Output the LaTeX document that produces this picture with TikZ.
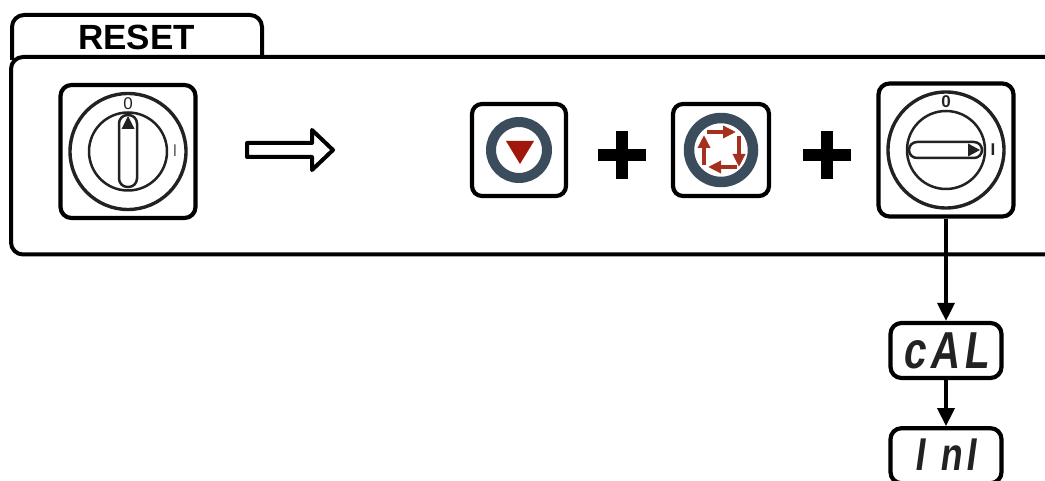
\documentclass[tikz,border=0pt]{standalone}
\usepackage{fontspec}
\setmainfont{Liberation Sans}
\newfontfamily\dispfont[FakeSlant=0.14,FakeStretch=0.78,LetterSpace=9]{Liberation Sans Bold}
\usepackage{xcolor}
\usetikzlibrary{positioning, arrows.meta}
\definecolor{ringgray}{HTML}{3B4D5C}
\definecolor{btnred}{HTML}{A0170C}
\definecolor{swred}{HTML}{A5301E}
\definecolor{inkgray}{HTML}{222222}

\begin{document}
\begin{tikzpicture}[
        x=1pt, y=-1pt,
        line join=round,
        frame/.style={line width=4pt, rounded corners=12pt},
        knobbox/.style={rectangle, draw, line width=4.2pt, rounded corners=11pt, minimum width=135pt, minimum height=133pt},
        btnbox/.style={rectangle, draw, line width=4.2pt, rounded corners=10pt, minimum width=94pt, minimum height=92pt},
        dispbox/.style={rectangle, draw, line width=4.2pt, rounded corners=11pt, minimum width=111pt, minimum height=55pt, inner sep=0pt},
        disptext/.style={font=\dispfont\fontsize{52}{52}\selectfont, text=inkgray, inner sep=0pt},
        knobline/.style={draw=inkgray, line width=2.5pt},
        swarrow/.style={-{Triangle[length=13pt, width=12pt]}, line width=4.4pt, draw=swred},
        plusbar/.style={fill=black, draw=none},
        flow/.style={-{Triangle[length=18pt, width=17pt]}, line width=3.6pt},
        mark0/.style={font=\fontsize{17}{17}\selectfont, text=inkgray, inner sep=0pt}
    ]
%
    \useasboundingbox (0,0) rectangle (1045,481);
%
    % Frame
    \draw[frame] (12,60) -- (12,15) -- (262,15) -- (262,60);
    \draw[frame, fill=white] (1060,57) -- (11,57) -- (11,254.5) -- (1060,254.5);
    \node[font=\bfseries\fontsize{35}{35}\selectfont, inner sep=0pt] (title) at (136.5,37) {RESET};
%
    % Nodes
    \node[knobbox] (knobA) at (128,151.5) {};
    \node[btnbox] (down) at (519,150) {};
    \node[btnbox, minimum width=96pt] (menu) at (721,150) {};
    \node[knobbox] (knobB) at (946,150) {};
    \node[dispbox] (cal) at (946,350.5) {};
    \node[dispbox, below=46pt of cal] (ini) {};
%
    % Knobs
    \foreach \k in {knobA, knobB} {
        \draw[knobline, line width=3.4pt] (\k.center) circle (58pt);
        \draw[knobline] (\k.center) circle (39pt);
    }
    \draw[knobline, fill=white, rounded corners=8.5pt] (119,115) rectangle (137,187);
    \fill[inkgray] (128,116) -- (134.5,129) -- (121.5,129) -- cycle;
    \node[mark0] (zeroA) at (128,104) {0};
    \node[mark0, text=black!60] (oneA) at (175,150.5) {I};
%
    \draw[knobline, fill=white, rounded corners=8pt] (909,142) rectangle (982,158);
    \fill[inkgray] (980,150) -- (968,143.5) -- (968,156.5) -- cycle;
    \node[mark0, font=\bfseries\fontsize{17}{17}\selectfont] (zeroB) at (946,102) {0};
    \node[mark0, font=\bfseries\fontsize{17}{17}\selectfont] (oneB) at (993,150) {I};
%
    % Block arrow
    \draw[line width=4pt] (247,143) -- (312,143) -- (312,130) -- (333,150) -- (312,170) -- (312,157) -- (247,157) -- cycle;
%
    % Buttons
    \draw[ringgray, line width=10pt] (down.center) circle (28pt);
    \fill[btnred] (506,141) -- (534,141) -- (520,164) -- cycle;
    \draw[ringgray, line width=10.5pt] (menu.center) circle (32pt);
    \draw[swarrow] (707,132) -- (736,132);
    \draw[swarrow] (739,136) -- (739,167);
    \draw[swarrow] (737,167) -- (708,167);
    \draw[swarrow] (704,165) -- (704,135);
%
    % Plus signs
    \foreach \cx in {622,827} {
        \fill[plusbar] (\cx-24,149) rectangle (\cx+24,161);
        \fill[plusbar] (\cx-6,131) rectangle (\cx+6,179);
    }
%
    % Displays
    \node[disptext] (calText) at (945,351) {cAL};
    \node[disptext, font=\dispfont\fontsize{46}{46}\selectfont] (iniText) at (945,455) {I nI};
%
    % Arrows
    \draw[flow] (knobB) -- (cal);
    \draw[flow] (cal) -- (ini);
%
\end{tikzpicture}
\end{document}
